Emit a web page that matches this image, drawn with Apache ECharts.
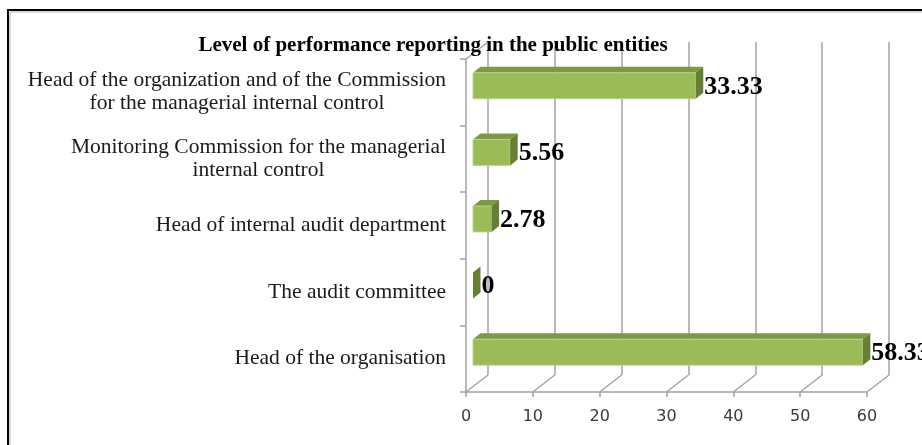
<!DOCTYPE html>
<html lang="en">
<head>
<meta charset="utf-8" />
<style>
  body { margin: 0; background: #fff; overflow: hidden; }
  .box { width: 922px; height: 445px; }
</style>
</head>
<body>
<div class="box"></div>
<script src="https://cdn.jsdelivr.net/npm/echarts@6/dist/echarts.min.js"></script>
<script>
// data, top to bottom as in the picture
var categories = [
  'Head of the organization and of the Commission\nfor the managerial internal control',
  'Monitoring Commission for the managerial\ninternal control',
  'Head of internal audit department',
  'The audit committee',
  'Head of the organisation'
];
var values = [33.33, 5.56, 2.78, 0, 58.33];
var xTicks = [0, 10, 20, 30, 40, 50, 60];
var titleText = 'Level of performance reporting in the public entities';

(function () {
  var myChart = echarts.init(document.querySelector('.box'));

  // 3d look: depth of the walls and of the bars (px)
  var wallDx = 22, wallDy = -17;
  var barShiftX = 7, barShiftY = -6.5;
  var barDx = 7.5, barDy = -6;
  var gridColor = '#a3a3a3';

  var barData = values.map(function (v, i) { return [v, i]; });
  var frameData = xTicks.map(function (v) { return [v, 0]; });

  var option = {
    animation: false,
    graphic: [
      { type: 'rect', shape: { x: 8, y: 10, width: 1000, height: 1000 },
        style: { fill: 'none', stroke: '#000', lineWidth: 2 }, z: 100 },
      { type: 'rect', shape: { x: 10, y: 12, width: 1000, height: 1000 },
        style: { fill: 'none', stroke: '#b0b0b0', lineWidth: 1 }, z: 100 },
      { type: 'text', x: 433, y: 46, z: 50,
        style: { text: titleText, textAlign: 'center', textVerticalAlign: 'middle',
                 font: 'bold 21px "Liberation Serif"', fill: '#000' } }
    ],
    grid: [
      { left: 466, top: 59, width: 401, height: 333 },   // front
      { left: 488, top: 42, width: 401, height: 333 }    // back wall
    ],
    xAxis: [{
      gridIndex: 0, type: 'value', min: 0, max: 60, interval: 10,
      axisLine: { show: true, lineStyle: { color: gridColor, width: 1.5 } },
      axisTick: { show: true, length: 5, lineStyle: { color: gridColor, width: 1.5 } },
      axisLabel: { margin: 17, color: '#3a3a3a', fontFamily: 'DejaVu Sans', fontSize: 16 },
      splitLine: { show: false }
    }, {
      gridIndex: 1, type: 'value', min: 0, max: 60, interval: 10,
      axisLine: { show: false }, axisTick: { show: false }, axisLabel: { show: false },
      splitLine: { show: true, lineStyle: { color: gridColor, width: 1.5 } }
    }],
    yAxis: [{
      gridIndex: 0, type: 'category', inverse: true, data: categories,
      axisLine: { show: true, lineStyle: { color: gridColor, width: 1.5 } },
      axisTick: { show: true, length: 6, lineStyle: { color: gridColor, width: 1.5 } },
      axisLabel: {
        margin: 20, align: 'right',
        formatter: function (v) {
          return v.split('\n').map(function (l) { return '{c|' + l + '}'; }).join('\n');
        },
        rich: { c: { align: 'center', fontFamily: 'Liberation Serif', fontSize: 21.5,
                     lineHeight: 23, color: '#1a1a1a' } }
      }
    }, {
      gridIndex: 1, type: 'category', inverse: true, data: categories, show: false
    }],
    series: [{
      // floor diagonals and the top edge of the left wall
      type: 'custom', xAxisIndex: 0, yAxisIndex: 0, z: 1,
      data: frameData,
      renderItem: function (params, api) {
        var cs = params.coordSys;
        var x = api.coord([api.value(0), 0])[0];
        var bottom = cs.y + cs.height;
        var kids = [{
          type: 'line',
          shape: { x1: x, y1: bottom, x2: x + wallDx, y2: bottom + wallDy },
          style: { stroke: gridColor, lineWidth: 1.5 }
        }];
        if (api.value(0) === 0) {
          kids.push({
            type: 'line',
            shape: { x1: x, y1: cs.y, x2: x + wallDx, y2: cs.y + wallDy },
            style: { stroke: gridColor, lineWidth: 1.5 }
          });
        }
        return { type: 'group', children: kids };
      }
    }, {
      type: 'custom', xAxisIndex: 0, yAxisIndex: 0, z: 5,
      data: barData,
      renderItem: function (params, api) {
        var p0 = api.coord([0, api.value(1)]);
        var p1 = api.coord([api.value(0), api.value(1)]);
        var h = api.size([0, 1])[1] * 0.39;
        var xl = p0[0] + barShiftX, xr = p1[0] + barShiftX;
        var cy = p0[1] + barShiftY;
        var top = cy - h / 2, bot = cy + h / 2;
        var kids = [];
        if (xr - xl > 0.5) {
          kids.push({
            type: 'polygon',
            shape: { points: [[xl, top], [xl + barDx, top + barDy], [xr + barDx, top + barDy], [xr, top]] },
            style: { fill: '#7c9a43' }
          });
          kids.push({
            type: 'rect', shape: { x: xl, y: top, width: xr - xl, height: h },
            style: { fill: '#9bbb59', stroke: '#bcd68a', lineWidth: 1 }
          });
        }
        kids.push({
          type: 'polygon',
          shape: { points: [[xr, top], [xr + barDx, top + barDy], [xr + barDx, bot + barDy], [xr, bot]] },
          style: { fill: '#667f37' }
        });
        kids.push({
          type: 'text', x: xr + barDx + 1, y: cy + 1,
          style: { text: String(api.value(0)), textAlign: 'left', textVerticalAlign: 'middle',
                   font: 'bold 26px "Liberation Serif"', fill: '#000' }
        });
        return { type: 'group', children: kids };
      }
    }]
  };

  myChart.setOption(option);
})();
</script>
</body>
</html>
